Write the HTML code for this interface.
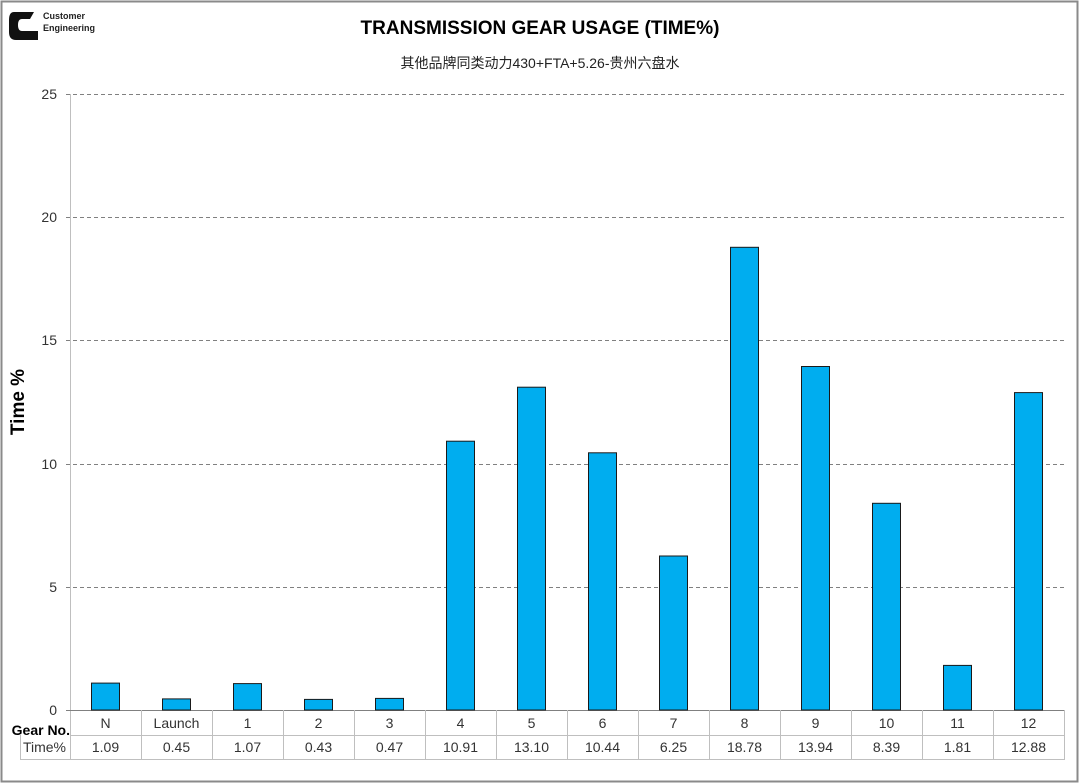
<!DOCTYPE html>
<html><head><meta charset="utf-8"><style>
body{margin:0;background:#fff}
svg{display:block;font-family:"Liberation Sans","Noto Sans CJK SC",sans-serif}
</style></head><body>
<svg width="1080" height="784" viewBox="0 0 1080 784" xmlns="http://www.w3.org/2000/svg">
<rect x="1.5" y="1.5" width="1076" height="780" fill="#fff" stroke="#8a8a8a" stroke-width="2"/>
<!-- logo -->
<g>
<path d="M14 12 L34 12 L30 19 L22 19 Q18 19 18 25 Q18 31 22 31 L38 31 L38 40 L16 40 Q9 40 9 32 L9 20 Q9 12 14 12 Z" fill="#111"/>
<text x="43" y="19" font-size="9" font-weight="bold" fill="#222">Customer</text>
<text x="43" y="31" font-size="9" font-weight="bold" fill="#222">Engineering</text>
</g>
<text x="540" y="34" font-size="19" font-weight="bold" text-anchor="middle" fill="#000">TRANSMISSION GEAR USAGE (TIME%)</text>
<text x="540" y="68" font-size="14" text-anchor="middle" fill="#222">其他品牌同类动力430+FTA+5.26-贵州六盘水</text>
<!-- grid -->
<g stroke="#808080" stroke-dasharray="4,3" stroke-width="1">
<line x1="66" y1="94.5" x2="1065" y2="94.5"/>
<line x1="66" y1="217.5" x2="1065" y2="217.5"/>
<line x1="66" y1="340.5" x2="1065" y2="340.5"/>
<line x1="66" y1="464.5" x2="1065" y2="464.5"/>
<line x1="66" y1="587.5" x2="1065" y2="587.5"/>
</g>
<line x1="70.5" y1="94" x2="70.5" y2="759" stroke="#bfbfbf"/>
<line x1="66" y1="710.5" x2="1065" y2="710.5" stroke="#808080"/>
<g font-size="14" fill="#333" text-anchor="end">
<text x="57" y="99">25</text><text x="57" y="222">20</text><text x="57" y="345">15</text>
<text x="57" y="469">10</text><text x="57" y="592">5</text><text x="57" y="715">0</text>
</g>
<text transform="translate(24,402) rotate(-90)" font-size="19" font-weight="bold" text-anchor="middle">Time %</text>
<!-- bars -->
<g fill="#00adef" stroke="#1a1a1a" stroke-width="1">
<rect x="91.5" y="683.1" width="28" height="26.9"/>
<rect x="162.5" y="698.9" width="28" height="11.1"/>
<rect x="233.5" y="683.6" width="28" height="26.4"/>
<rect x="304.5" y="699.4" width="28" height="10.6"/>
<rect x="375.5" y="698.4" width="28" height="11.6"/>
<rect x="446.5" y="441.2" width="28" height="268.8"/>
<rect x="517.5" y="387.2" width="28" height="322.8"/>
<rect x="588.5" y="452.8" width="28" height="257.2"/>
<rect x="659.5" y="556.0" width="28" height="154.0"/>
<rect x="730.5" y="247.3" width="28" height="462.7"/>
<rect x="801.5" y="366.5" width="28" height="343.5"/>
<rect x="872.5" y="503.3" width="28" height="206.7"/>
<rect x="943.5" y="665.4" width="28" height="44.6"/>
<rect x="1014.5" y="392.6" width="28" height="317.4"/>
</g>
<!-- table -->
<g stroke="#bfbfbf" stroke-width="1">
<line x1="70" y1="735.5" x2="1065" y2="735.5"/>
<line x1="20" y1="759.5" x2="1065" y2="759.5"/>
<line x1="20.5" y1="735" x2="20.5" y2="759"/>
<line x1="1064.5" y1="710" x2="1064.5" y2="759"/>
<line x1="141.5" y1="710" x2="141.5" y2="759"/><line x1="212.5" y1="710" x2="212.5" y2="759"/>
<line x1="283.5" y1="710" x2="283.5" y2="759"/><line x1="354.5" y1="710" x2="354.5" y2="759"/>
<line x1="425.5" y1="710" x2="425.5" y2="759"/><line x1="496.5" y1="710" x2="496.5" y2="759"/>
<line x1="567.5" y1="710" x2="567.5" y2="759"/><line x1="638.5" y1="710" x2="638.5" y2="759"/>
<line x1="709.5" y1="710" x2="709.5" y2="759"/><line x1="780.5" y1="710" x2="780.5" y2="759"/>
<line x1="851.5" y1="710" x2="851.5" y2="759"/><line x1="922.5" y1="710" x2="922.5" y2="759"/>
<line x1="993.5" y1="710" x2="993.5" y2="759"/>
</g>
<text x="70" y="735" font-size="14" font-weight="bold" text-anchor="end">Gear No.</text>
<text x="66" y="752" font-size="14" text-anchor="end" fill="#333">Time%</text>
<g font-size="14" fill="#333" text-anchor="middle">
<text x="105.5" y="728">N</text><text x="176.5" y="728">Launch</text><text x="247.5" y="728">1</text>
<text x="318.5" y="728">2</text><text x="389.5" y="728">3</text><text x="460.5" y="728">4</text>
<text x="531.5" y="728">5</text><text x="602.5" y="728">6</text><text x="673.5" y="728">7</text>
<text x="744.5" y="728">8</text><text x="815.5" y="728">9</text><text x="886.5" y="728">10</text>
<text x="957.5" y="728">11</text><text x="1028.5" y="728">12</text>
<text x="105.5" y="752">1.09</text><text x="176.5" y="752">0.45</text><text x="247.5" y="752">1.07</text>
<text x="318.5" y="752">0.43</text><text x="389.5" y="752">0.47</text><text x="460.5" y="752">10.91</text>
<text x="531.5" y="752">13.10</text><text x="602.5" y="752">10.44</text><text x="673.5" y="752">6.25</text>
<text x="744.5" y="752">18.78</text><text x="815.5" y="752">13.94</text><text x="886.5" y="752">8.39</text>
<text x="957.5" y="752">1.81</text><text x="1028.5" y="752">12.88</text>
</g>
</svg>
</body></html>
